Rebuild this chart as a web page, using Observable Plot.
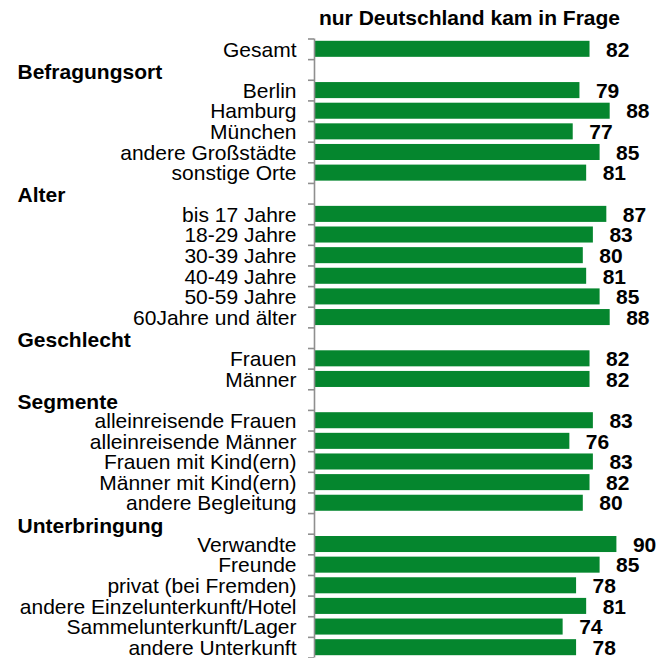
<!DOCTYPE html>
<html>
<head>
<meta charset="utf-8">
<script src="https://cdn.jsdelivr.net/npm/d3@7"></script>
<script src="https://cdn.jsdelivr.net/npm/@observablehq/plot@0.6"></script>
<style>
  html, body { margin: 0; padding: 0; background: #fff; }
  #chart svg { display: block; }
</style>
</head>
<body>
<div id="chart"></div>
<script>
const title = "nur Deutschland kam in Frage";
const rows = [
  "Gesamt",
  "Befragungsort", "Berlin", "Hamburg", "München", "andere Großstädte", "sonstige Orte",
  "Alter", "bis 17 Jahre", "18-29 Jahre", "30-39 Jahre", "40-49 Jahre", "50-59 Jahre", "60Jahre und älter",
  "Geschlecht", "Frauen", "Männer",
  "Segmente", "alleinreisende Frauen", "alleinreisende Männer", "Frauen mit Kind(ern)", "Männer mit Kind(ern)", "andere Begleitung",
  "Unterbringung", "Verwandte", "Freunde", "privat (bei Fremden)", "andere Einzelunterkunft/Hotel", "Sammelunterkunft/Lager", "andere Unterkunft"
];
const headers = ["Befragungsort", "Alter", "Geschlecht", "Segmente", "Unterbringung"];
const values = [
  82,
  null, 79, 88, 77, 85, 81,
  null, 87, 83, 80, 81, 85, 88,
  null, 82, 82,
  null, 83, 76, 83, 82, 80,
  null, 90, 85, 78, 81, 74, 78
];

const table = rows.map((label, i) => ({label, i, value: values[i], header: headers.includes(label)}));
const bars = table.filter(d => !d.header);
const heads = table.filter(d => d.header);

const font = "'Liberation Sans', Arial, Helvetica, sans-serif";
const green = "#05862e";
const grey = "#8f8f8f";

const chart = Plot.plot({
  width: 660,
  height: 658,
  marginTop: 38.5,
  marginBottom: 0.5,
  marginLeft: 314,
  marginRight: 10,
  style: {fontFamily: font, background: "#fff", overflow: "visible"},
  x: {domain: [0, 100], axis: null},
  y: {domain: [0, rows.length], reverse: true},
  marks: [
    Plot.rectX(bars, {x1: 0, x2: "value", y1: "i", y2: d => d.i + 1, insetTop: 2.3, insetBottom: 2.3, fill: green}),
    Plot.ruleX([0], {stroke: grey, strokeWidth: 1.6}),
    Plot.axisY(d3.range(rows.length + 1), {tickFormat: () => "", tickSize: 6, stroke: grey, strokeWidth: 1.6, label: null}),
    Plot.text(bars, {y: d => d.i + 0.5, text: "label", frameAnchor: "left", dx: -18, dy: 0.5, textAnchor: "end", fontSize: 21, fill: "#000"}),
    Plot.text(heads, {y: d => d.i + 0.5, text: "label", frameAnchor: "left", dx: -297, dy: 2, textAnchor: "start", fontSize: 21, fontWeight: "bold", fill: "#000"}),
    Plot.text(bars, {x: "value", y: d => d.i + 0.5, text: d => String(d.value), dx: 16, dy: 0.5, textAnchor: "start", fontSize: 21, fontWeight: "bold", fill: "#000"}),
    Plot.text([title], {text: d => d, frameAnchor: "top", dx: -13, dy: -21, lineAnchor: "middle", textAnchor: "middle", fontSize: 21, fontWeight: "bold", fill: "#000"})
  ]
});
document.getElementById("chart").appendChild(chart);
</script>
</body>
</html>
